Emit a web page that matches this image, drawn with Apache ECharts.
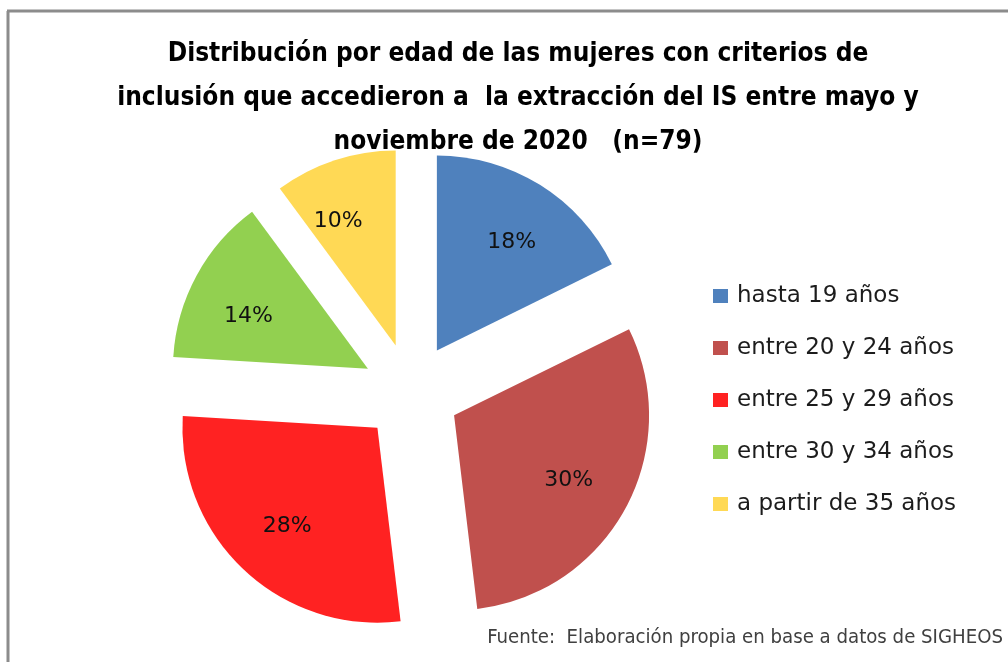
<!DOCTYPE html>
<html><head><meta charset="utf-8">
<script src="https://cdn.jsdelivr.net/npm/echarts@6/dist/echarts.min.js"></script>
<style>html,body{margin:0;padding:0;background:#fff}#c{width:1008px;height:662px}</style>
</head><body><div id="c"></div>
<script>
const categories = ['hasta 19 años','entre 20 y 24 años','entre 25 y 29 años','entre 30 y 34 años','a partir de 35 años'];
const counts = [14, 24, 22, 11, 8];
const percentLabels = ['18%','30%','28%','14%','10%'];
const colors = ['#4F81BD','#C0504D','#FF2222','#92D050','#FFD955'];
const labelNudge = [[3,7],[-5,1],[3,2],[0,13],[-15,5]];
const titleText = 'Distribución por edad de las mujeres con criterios de\ninclusión que accedieron a  la extracción del IS entre mayo y\nnoviembre de 2020   (n=79)';
const sourceText = 'Fuente:  Elaboración propia en base a datos de SIGHEOS';

const chart = echarts.init(document.getElementById('c'), null, {renderer:'canvas'});
const cx = 411, cy = 392, R = 195, OFF = 49;
function nudgedLabel(text, [dx,dy]) {
  const l = {formatter:text, padding:[0, Math.max(-2*dx,0), 0, Math.max(2*dx,0)]};
  if (dy >= 3) { l.formatter = '\n' + text; l.lineHeight = 2*dy; }
  return l;
}
const mainData = categories.map((n,i)=>({name:n, value:counts[i], selected:true, itemStyle:{color:colors[i]}}));
const labelData = categories.map((n,i)=>({name:n, value:counts[i], selected:true, label:nudgedLabel(percentLabels[i], labelNudge[i])}));
chart.setOption({
  animation:false,
  title:{text:titleText, left:513, top:27, textAlign:'center',
    textStyle:{fontFamily:'"Liberation Sans Narrow","DejaVu Sans Condensed",sans-serif', fontWeight:'bold', fontSize:26, lineHeight:44, color:'#000'}},
  legend:{orient:'vertical', left:713, top:284, padding:0, itemWidth:15, itemHeight:14, itemGap:28, icon:'rect',
    data:categories, selectedMode:false,
    textStyle:{fontFamily:'"DejaVu Sans",sans-serif', fontSize:23, lineHeight:24, color:'#1c1c1c', padding:[0,0,0,4]}},
  graphic:[
    {type:'line', shape:{x1:7,y1:11,x2:1008,y2:11}, style:{stroke:'#8c8c8c', lineWidth:3}, silent:true},
    {type:'line', shape:{x1:8,y1:11,x2:8,y2:662}, style:{stroke:'#8c8c8c', lineWidth:3}, silent:true},
    {type:'text', right:5, top:628, style:{text:sourceText, font:'20.2px "Liberation Sans Narrow","DejaVu Sans Condensed",sans-serif', fill:'#404040'}}
  ],
  series:[
    {type:'pie', center:[cx,cy], radius:R, startAngle:90, clockwise:true, selectedMode:'multiple', selectedOffset:OFF,
      label:{show:false}, labelLine:{show:false}, emphasis:{disabled:true}, data:mainData},
    {type:'pie', center:[cx,cy], radius:266, startAngle:90, clockwise:true, selectedMode:'multiple', selectedOffset:OFF,
      silent:true, itemStyle:{color:'rgba(0,0,0,0)'}, emphasis:{disabled:true},
      label:{show:true, position:'inside', fontFamily:'"DejaVu Sans",sans-serif', fontSize:22, color:'#111'},
      labelLine:{show:false}, data:labelData}
  ]
});
</script></body></html>
